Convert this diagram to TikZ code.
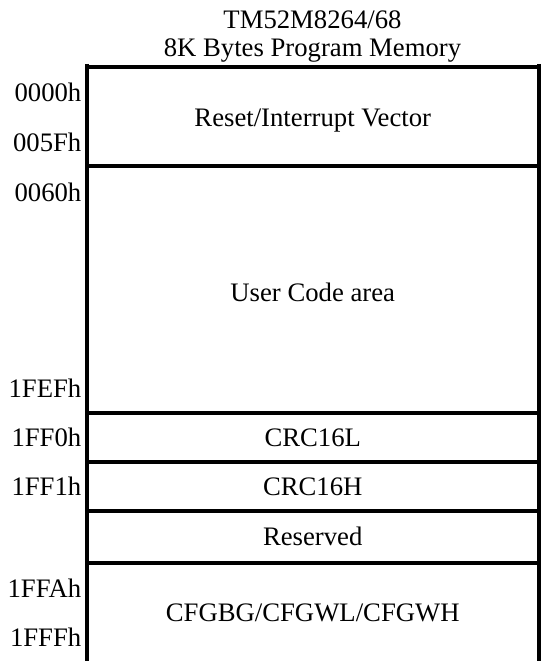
\documentclass[tikz,border=0pt]{standalone}
\usepackage{fontspec}
\setmainfont{Liberation Serif}
\begin{document}
\begin{tikzpicture}[x=1pt,y=-1pt,
  txt/.style={anchor=base,inner sep=0pt,font=\fontsize{26.7pt}{29pt}\selectfont},
  addr/.style={anchor=base east,inner sep=0pt,font=\fontsize{26.7pt}{29pt}\selectfont},
  wall/.style={line width=4pt,line cap=butt}]
\useasboundingbox (0,0) rectangle (541,661);
% title
\node[txt] (t1) at (312.5,28.3) {TM52M8264/68};
\node[txt] (t2) at (312.5,57) {8K Bytes Program Memory};
% frame
\coordinate (lt) at (86.5,64);
\coordinate (lb) at (86.5,661);
\coordinate (rt) at (539,64);
\coordinate (rb) at (539,661);
\draw[wall] (lt) -- (lb);
\draw[wall] (rt) -- (rb);
\foreach \yy/\nm in {67/h0,166/h1,413/h2,462/h3,511/h4,563/h5}{
  \coordinate (\nm l) at (86.5,\yy);
  \coordinate (\nm r) at (539,\yy);
  \draw[wall] (\nm l) -- (\nm r);
}
% box texts
\node[txt] (b1) at (312.75,126.7) {Reset/Interrupt Vector};
\node[txt] (b2) at (312.75,301.7) {User Code area};
\node[txt] (b3) at (312.75,446.7) {CRC16L};
\node[txt] (b4) at (312.75,495.2) {CRC16H};
\node[txt] (b5) at (312.75,545.7) {Reserved};
\node[txt] (b6) at (312.75,621.7) {CFGBG/CFGWL/CFGWH};
% addresses
\node[addr] (a1) at (81.5,101) {0000h};
\node[addr] (a2) at (81.5,151.7) {005Fh};
\node[addr] (a3) at (81.5,201.7) {0060h};
\node[addr] (a4) at (81.5,397.3) {1FEFh};
\node[addr] (a5) at (81.5,446.7) {1FF0h};
\node[addr] (a6) at (81.5,495.2) {1FF1h};
\node[addr] (a7) at (81.5,597.3) {1FFAh};
\node[addr] (a8) at (81.5,646.7) {1FFFh};
\end{tikzpicture}
\end{document}
